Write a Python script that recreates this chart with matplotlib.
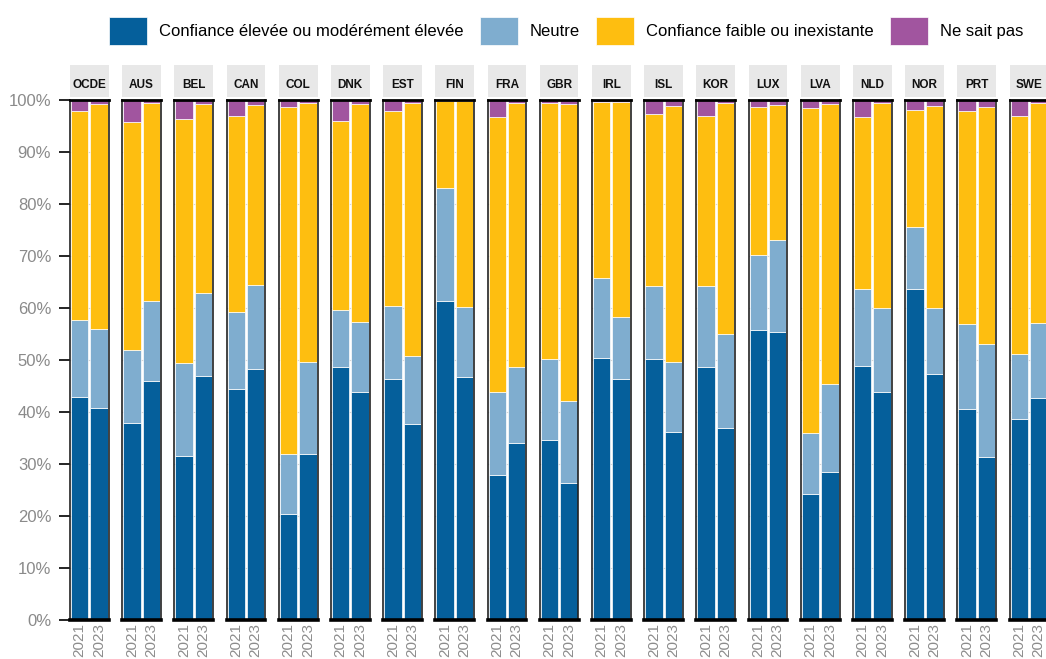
import matplotlib
matplotlib.use("Agg")
import matplotlib.pyplot as plt
from matplotlib.patches import Rectangle

countries = ['OCDE', 'AUS', 'BEL', 'CAN', 'COL', 'DNK', 'EST', 'FIN', 'FRA', 'GBR',
             'IRL', 'ISL', 'KOR', 'LUX', 'LVA', 'NLD', 'NOR', 'PRT', 'SWE']
years = ['2021', '2023']
series_names = ['Confiance élevée ou modérément élevée', 'Neutre',
                'Confiance faible ou inexistante', 'Ne sait pas']

high_2021 = [42.9, 37.8, 31.5, 44.5, 20.3, 48.6, 46.3, 61.3, 27.8, 34.6, 50.4, 50.1, 48.6, 55.8, 24.2, 48.9, 63.7, 40.5, 38.7]
neutral_2021 = [14.7, 14.1, 17.9, 14.8, 11.6, 11.1, 14.1, 21.7, 16.0, 15.6, 15.4, 14.1, 15.6, 14.3, 11.8, 14.7, 11.9, 16.4, 12.5]
low_2021 = [40.2, 43.9, 46.9, 37.6, 66.8, 36.3, 37.5, 16.9, 53.0, 49.3, 33.9, 33.2, 32.8, 28.5, 62.5, 33.2, 22.5, 41.0, 45.7]
dk_2021 = [2.2, 4.2, 3.7, 3.1, 1.3, 4.0, 2.1, 0.1, 3.2, 0.5, 0.3, 2.6, 3.0, 1.4, 1.5, 3.2, 1.9, 2.1, 3.1]

high_2023 = [40.7, 46.0, 47.0, 48.3, 31.9, 43.8, 37.6, 46.8, 34.0, 26.3, 46.4, 36.2, 36.9, 55.3, 28.5, 43.8, 47.4, 31.4, 42.7]
neutral_2023 = [15.3, 15.4, 15.8, 16.1, 17.7, 13.6, 13.2, 13.3, 14.6, 15.9, 11.9, 13.5, 18.1, 17.7, 16.8, 16.2, 12.6, 21.7, 14.4]
low_2023 = [43.3, 38.1, 36.4, 34.6, 49.9, 41.8, 48.7, 39.8, 50.8, 57.0, 41.4, 49.2, 44.5, 26.0, 53.9, 39.5, 38.9, 45.6, 42.4]
dk_2023 = [0.7, 0.5, 0.8, 1.0, 0.5, 0.8, 0.5, 0.1, 0.6, 0.8, 0.3, 1.1, 0.5, 1.0, 0.8, 0.5, 1.1, 1.3, 0.5]

y_ticks = [0, 10, 20, 30, 40, 50, 60, 70, 80, 90, 100]
y_tick_labels = [f'{v}%' for v in y_ticks]

colors = ['#055f9b', '#7fadcf', '#febe10', '#a1559f']

plt.rcParams['font.family'] = ['Liberation Sans', 'DejaVu Sans']

W, H = 1046, 659
fig = plt.figure(figsize=(W / 100, H / 100), dpi=100)

s2021 = [high_2021, neutral_2021, low_2021, dk_2021]
s2023 = [high_2023, neutral_2023, low_2023, dk_2023]

top_px, bot_px = 100, 620
ax_h = bot_px - top_px
pitch, width_px = 52.2, 38.7
handles = []
for i, c in enumerate(countries):
    left = 70 + i * pitch
    ax = fig.add_axes([left / W, (H - bot_px) / H, width_px / W, ax_h / H])
    bottom = [0.0, 0.0]
    for k in range(4):
        vals = [s2021[k][i], s2023[k][i]]
        b = ax.bar([0, 1], vals, width=0.9, bottom=bottom, color=colors[k],
                   edgecolor='white', linewidth=0.5, zorder=2, label=series_names[k])
        if i == 0:
            handles.append(b)
        bottom = [bottom[0] + vals[0], bottom[1] + vals[1]]
    ax.set_xlim(-0.5, 1.5)
    ax.set_ylim(0, 100)
    ax.set_yticks(y_ticks)
    ax.yaxis.grid(True, color='#d5d5d5', linewidth=0.8, zorder=0)
    ax.set_axisbelow(True)
    ax.set_xticks([0, 1])
    ax.set_xticklabels(years, rotation=90, color='#8c8c8c', fontsize=11)
    ax.tick_params(axis='x', length=0, pad=2.5)
    if i == 0:
        ax.set_yticklabels(y_tick_labels, color='#8a8a8a', fontsize=12)
        ax.tick_params(axis='y', length=8, width=1.2, color='black', pad=5.5)
    else:
        ax.tick_params(axis='y', length=0, labelleft=False)
    for side in ['left', 'right']:
        ax.spines[side].set_color('#222222')
        ax.spines[side].set_linewidth(1.2)
    ax.spines['top'].set_color('black')
    ax.spines['top'].set_linewidth(2.0)
    ax.spines['bottom'].set_color('black')
    ax.spines['bottom'].set_linewidth(2.6)
    # facet strip
    ax.add_patch(Rectangle((0, 1 + 3 / ax_h), 1, 32 / ax_h, transform=ax.transAxes,
                           clip_on=False, facecolor='#e8e8e8', edgecolor='none'))
    ax.text(0.5, (bot_px - 85) / ax_h, c, transform=ax.transAxes, ha='center', va='center',
            fontsize=8.5, fontweight='bold', color='#111111')

fig.legend(handles=handles, labels=series_names, loc='center', ncol=4,
           bbox_to_anchor=(566 / W, 1 - 31 / H), frameon=False,
           prop={'size': 12},
           handlelength=2.28, handleheight=2.2, handletextpad=0.7, columnspacing=1.0)

fig.savefig('out.png', dpi=100)
